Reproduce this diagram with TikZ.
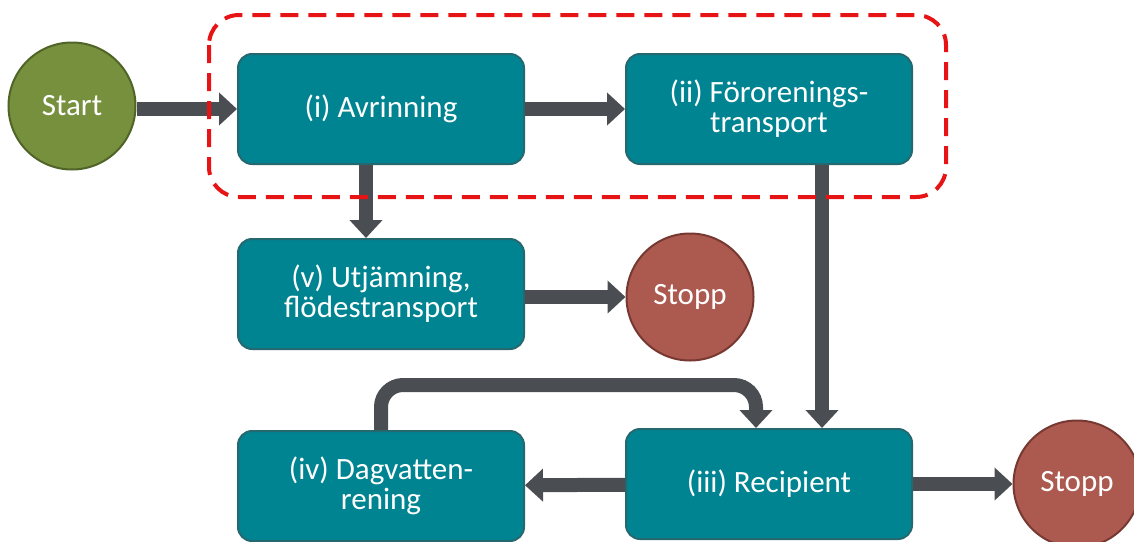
\documentclass[tikz,border=0pt]{standalone}
\usepackage{fontspec}
\setmainfont{Carlito}
\usetikzlibrary{arrows.meta}
\definecolor{boxfill}{RGB}{0,132,145}
\definecolor{boxline}{RGB}{38,104,112}
\definecolor{startfill}{RGB}{118,144,62}
\definecolor{startline}{RGB}{80,100,40}
\definecolor{stopfill}{RGB}{172,90,80}
\definecolor{stopline}{RGB}{120,56,50}
\definecolor{arrgray}{RGB}{74,77,81}
\definecolor{framered}{RGB}{230,20,20}
\tikzset{
  stepbox/.style={draw=boxline, line width=2pt, fill=boxfill, rounded corners=14pt,
    minimum width=286pt, minimum height=110pt, text=white, align=center,
    font=\fontsize{31}{30}\selectfont, inner sep=0pt},
  startnode/.style={circle, draw=startline, line width=2pt, fill=startfill,
    minimum size=127pt, text=white, font=\fontsize{31}{30}\selectfont, inner sep=0pt},
  stopnode/.style={circle, draw=stopline, line width=2pt, fill=stopfill,
    minimum size=127pt, text=white, font=\fontsize{31}{30}\selectfont, inner sep=0pt},
  arr/.style={draw=arrgray, line width=14pt, -{Triangle[width=32pt,length=18pt]}},
  frame/.style={draw=framered, line width=4pt, dash pattern=on 18pt off 10pt, rounded corners=30pt}
}
\begin{document}
\begin{tikzpicture}[x=1pt,y=-1pt]
\useasboundingbox (0,0) rectangle (1134,541);
\clip (0,0) rectangle (1134,541);
\node[startnode] (start) at (72,106) {Start};
\node[stepbox] (avr) at (381,109) {(i) Avrinning};
\node[stepbox] (foro) at (769,109) {(ii) Förorenings-\\transport};
\node[stepbox] (utj) at (381,294) {(v) Utjämning,\\flödestransport};
\node[stopnode] (stopp1) at (690,297) {Stopp};
\node[stepbox] (dag) at (381,486) {(iv) Dagvatten-\\rening};
\node[stepbox] (rec) at (769,484) {(iii) Recipient};
\node[stopnode] (stopp2) at (1077,484) {Stopp};
\coordinate (loop) at (756,385);
\draw[arr] (start.east |- avr) -- (avr.west);
\draw[arr] (avr) -- (foro);
\draw[arr] ([xshift=-15pt]avr.south) -- ([xshift=-15pt]utj.north);
\draw[arr] (utj.east |- stopp1) -- (stopp1.west);
\draw[arr] ([xshift=53pt]foro.south) -- ([xshift=53pt]rec.north);
\draw[arr] (rec) -- (dag);
\draw[arr] (rec) -- (stopp2);
\draw[arr, rounded corners=22pt] (dag.north) |- (loop) -- ([xshift=-13pt]rec.north);
\draw[frame] (209,15) rectangle (946,197);
\end{tikzpicture}
\end{document}
